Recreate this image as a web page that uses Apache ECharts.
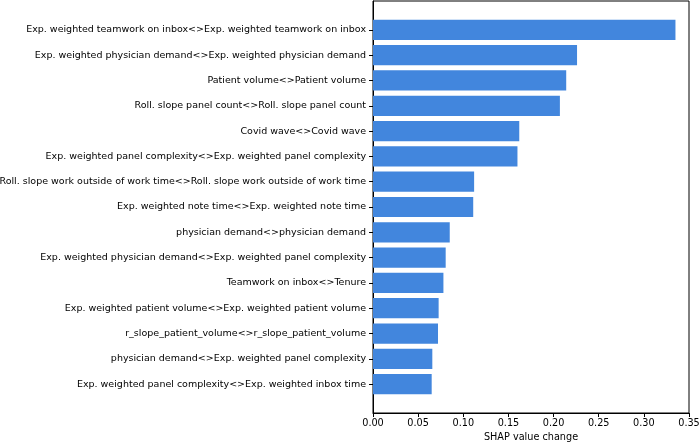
<!DOCTYPE html>
<html><head><meta charset="utf-8">
<script src="https://cdn.jsdelivr.net/npm/echarts@6/dist/echarts.min.js"></script>
<style>html,body{margin:0;padding:0;background:#fff}#c{width:699px;height:443px}</style>
</head><body><div id="c"></div>
<script>
const categories = [
  "Exp. weighted teamwork on inbox<>Exp. weighted teamwork on inbox",
  "Exp. weighted physician demand<>Exp. weighted physician demand",
  "Patient volume<>Patient volume",
  "Roll. slope panel count<>Roll. slope panel count",
  "Covid wave<>Covid wave",
  "Exp. weighted panel complexity<>Exp. weighted panel complexity",
  "Roll. slope work outside of work time<>Roll. slope work outside of work time",
  "Exp. weighted note time<>Exp. weighted note time",
  "physician demand<>physician demand",
  "Exp. weighted physician demand<>Exp. weighted panel complexity",
  "Teamwork on inbox<>Tenure",
  "Exp. weighted patient volume<>Exp. weighted patient volume",
  "r_slope_patient_volume<>r_slope_patient_volume",
  "physician demand<>Exp. weighted panel complexity",
  "Exp. weighted panel complexity<>Exp. weighted inbox time"
];
const values = [0.335, 0.226, 0.214, 0.207, 0.162, 0.160, 0.112, 0.111, 0.085, 0.0805, 0.078, 0.0727, 0.072, 0.0657, 0.065];
const xTicks = [0, 0.05, 0.10, 0.15, 0.20, 0.25, 0.30, 0.35];
const xTitle = "SHAP value change";

const font = "DejaVu Sans";
const chart = echarts.init(document.getElementById('c'));
const L = 373, R = 10, T = 1, B = 30;
const plotH = 443 - T - B;
const unit = plotH / 16.28;
const aTop = T + 0.64 * unit;
const aBottom = 443 - (aTop + 15 * unit);
chart.setOption({
  animation: false,
  grid: [
    {left: L, right: R, top: aTop, bottom: aBottom, show: false, containLabel: false, outerBoundsMode: 'none'},
    {left: L, right: R, top: T, bottom: B, show: true, borderColor: '#000', borderWidth: 1, backgroundColor: 'transparent', containLabel: false, outerBoundsMode: 'none'}
  ],
  xAxis: [
    {gridIndex: 0, type: 'value', min: 0, max: 0.35, show: false},
    {gridIndex: 1, type: 'value', min: 0, max: 0.35, interval: 0.05, position: 'bottom',
     axisLine: {show: true, lineStyle: {color: '#000', width: 1}},
     axisTick: {show: true, length: 4, lineStyle: {color: '#000'}},
     splitLine: {show: false},
     axisLabel: {color: '#000', fontFamily: font, fontSize: 9.7, margin: 5, hideOverlap: false,
       showMinLabel: true, showMaxLabel: true,
       formatter: v => xTicks.reduce((a, t) => Math.abs(t - v) < 1e-9 ? t.toFixed(2) : a, v.toFixed(2))},
     name: xTitle, nameLocation: 'middle', nameGap: 19,
     nameTextStyle: {color: '#000', fontFamily: font, fontSize: 9.7}}
  ],
  yAxis: [
    {gridIndex: 0, type: 'category', data: categories, inverse: true,
     axisLine: {show: false},
     axisTick: {show: true, alignWithLabel: true, length: 4, lineStyle: {color: '#000'}},
     axisLabel: {color: '#000', fontFamily: font, fontSize: 9.5, margin: 7, interval: 0, hideOverlap: false}},
    {gridIndex: 1, type: 'value', min: 0, max: 1, show: true,
     axisLine: {show: true, lineStyle: {color: '#000'}}, axisTick: {show: false},
     axisLabel: {show: false}, splitLine: {show: false}}
  ],
  series: [{
    type: 'bar', xAxisIndex: 0, yAxisIndex: 0, data: values, barWidth: '80%',
    itemStyle: {color: '#4286dd'}
  }]
});
</script></body></html>
